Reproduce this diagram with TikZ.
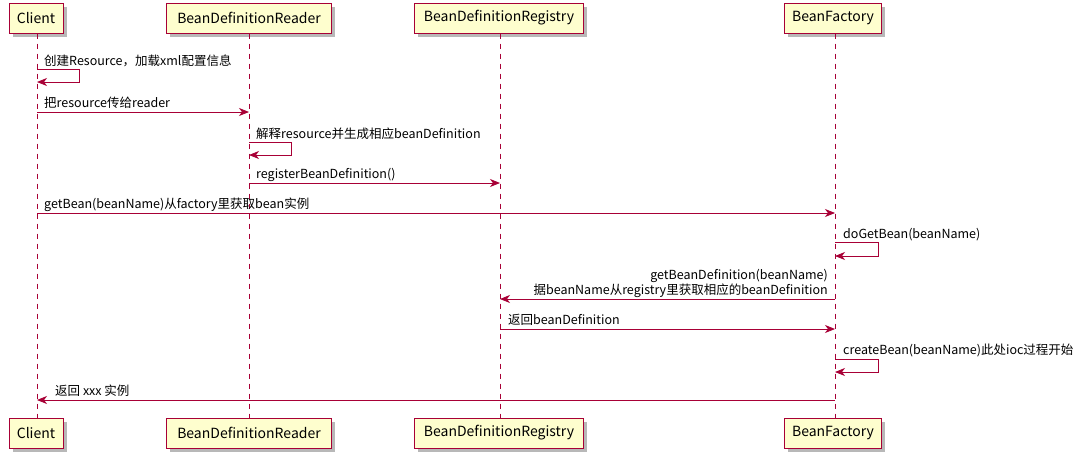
\documentclass[tikz,border=0pt]{standalone}
\usepackage{fontspec}
\setmainfont{Noto Sans CJK SC}
\usepackage{xcolor}
\usepackage{tikz}
\usetikzlibrary{arrows.meta, positioning}

\definecolor{umlred}{HTML}{A80036}
\definecolor{umlfill}{HTML}{FEFECE}

\begin{document}
\begin{tikzpicture}[
        x=1pt, y=-1pt,
        part/.style={rectangle, draw=umlred, fill=umlfill, line width=1pt, minimum height=30pt, inner xsep=6pt, font=\fontsize{14}{16}\selectfont, preaction={draw=none, fill=black!28, transform canvas={xshift=3.5pt, yshift=-3.5pt}}},
        life/.style={umlred, line width=0.8pt, dash pattern=on 5pt off 5pt},
        msg/.style={umlred, line width=0.9pt, -{Stealth[length=10pt, width=8pt, inset=3pt]}},
        lbl/.style={font=\fontsize{12.5}{15}\selectfont, inner sep=0pt, text=black}
    ]
    \useasboundingbox (0,0) rectangle (1092,458);

    % participants
    \node (clientT) [part, minimum width=54pt] at (36,18) {Client};
    \node (readerT) [part, minimum width=165pt] at (249,18) {BeanDefinitionReader};
    \node (registryT) [part, minimum width=169pt] at (499,18) {BeanDefinitionRegistry};
    \node (factoryT) [part, minimum width=97pt] at (833,18) {BeanFactory};

    \node (clientB) [part, minimum width=54pt] at (36,433) {Client};
    \node (readerB) [part, minimum width=165pt] at (249,433) {BeanDefinitionReader};
    \node (registryB) [part, minimum width=169pt] at (499,433) {BeanDefinitionRegistry};
    \node (factoryB) [part, minimum width=97pt] at (833,433) {BeanFactory};

    \draw [life] ([xshift=1pt]clientT.south) -- ([xshift=1pt]clientB.north);
    \draw [life] (readerT.south) -- (readerB.north);
    \draw [life] ([xshift=1pt]registryT.south) -- ([xshift=1pt]registryB.north);
    \draw [life] ([xshift=2pt]factoryT.south) -- ([xshift=2pt]factoryB.north);

    % points on the lifelines
    \coordinate (c1) at (37,69);  \coordinate (c1e) at (37,82);
    \coordinate (c2) at (37,112); \coordinate (r2) at (249,112);
    \coordinate (r3) at (249,142); \coordinate (r3e) at (249,155);
    \coordinate (r4) at (249,183); \coordinate (g4) at (500,183);
    \coordinate (c5) at (37,213); \coordinate (f5) at (835,213);
    \coordinate (f6) at (835,242); \coordinate (f6e) at (835,256);
    \coordinate (f7) at (835,299); \coordinate (g7) at (500,299);
    \coordinate (g8) at (500,329); \coordinate (f8) at (835,329);
    \coordinate (f9) at (835,359); \coordinate (f9e) at (835,372);
    \coordinate (f10) at (835,400); \coordinate (c10) at (37,400);

    \draw [msg] (c1) -- ++(42,0) -- ++(0,13) -- (c1e);
    \node (l1) [lbl, anchor=base west] at (44,65) {创建Resource，加载xml配置信息};

    \draw [msg] (c2) -- (r2);
    \node (l2) [lbl, anchor=base west] at (44,107) {把resource传给reader};

    \draw [msg] (r3) -- ++(42,0) -- ++(0,13) -- (r3e);
    \node (l3) [lbl, anchor=base west] at (256,138) {解释resource并生成相应beanDefinition};

    \draw [msg] (r4) -- (g4);
    \node (l4) [lbl, anchor=base west] at (256,178) {registerBeanDefinition()};

    \draw [msg] (c5) -- (f5);
    \node (l5) [lbl, anchor=base west] at (44,208) {getBean(beanName)从factory里获取bean实例};

    \draw [msg] (f6) -- ++(43,0) -- ++(0,14) -- (f6e);
    \node (l6) [lbl, anchor=base west] at (843,238) {doGetBean(beanName)};

    \draw [msg] (f7) -- (g7);
    \node (l7a) [lbl, anchor=base east] at (828,279) {getBeanDefinition(beanName)};
    \node (l7b) [lbl, anchor=base east] at (828,294) {据beanName从registry里获取相应的beanDefinition};

    \draw [msg] (g8) -- (f8);
    \node (l8) [lbl, anchor=base west] at (508,324) {返回beanDefinition};

    \draw [msg] (f9) -- ++(43,0) -- ++(0,13) -- (f9e);
    \node (l9) [lbl, anchor=base west] at (843,354) {createBean(beanName)此处ioc过程开始};

    \draw [msg] (f10) -- (c10);
    \node (l10) [lbl, anchor=base west] at (55,395) {返回 xxx 实例};

\end{tikzpicture}
\end{document}
